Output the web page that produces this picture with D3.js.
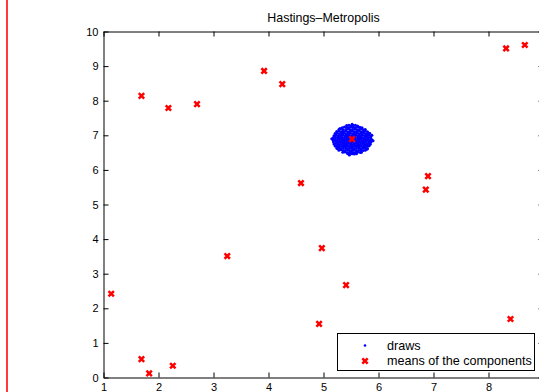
<!DOCTYPE html>
<html>
<head>
<meta charset="utf-8">
<script src="https://cdn.jsdelivr.net/npm/d3@7"></script>
<style>
  html, body { margin: 0; padding: 0; background: #fff; }
  svg { display: block; }
  text { font-family: "Liberation Sans", Arial, Helvetica, sans-serif; }
</style>
</head>
<body>
<svg id="chart" width="539" height="392"></svg>
<script>
// Means of the mixture components
const meanX = [1.14, 1.69, 1.83, 2.26, 1.69, 2.18, 2.70, 3.25, 3.92, 4.25,
               4.59, 4.97, 5.41, 4.92, 5.52, 6.90, 6.86, 8.32, 8.66, 8.40];
const meanY = [2.42, 0.53, 0.12, 0.34, 8.14, 7.79, 7.90, 3.51, 8.86, 8.48,
               5.62, 3.74, 2.67, 1.55, 6.89, 5.82, 5.43, 9.51, 9.61, 1.69];

// Hastings-Metropolis draws (x, y)
const draws = [
  [5.42,7.28],[5.46,7.29],[5.50,7.27],[5.54,7.28],[5.58,7.29],[5.62,7.27],
  [5.34,7.22],[5.38,7.24],[5.42,7.23],[5.46,7.22],[5.50,7.24],[5.54,7.23],[5.58,7.22],[5.62,7.24],[5.66,7.23],[5.70,7.22],
  [5.28,7.17],[5.32,7.18],[5.36,7.16],[5.41,7.17],[5.45,7.19],[5.49,7.16],[5.53,7.17],[5.57,7.18],[5.61,7.16],[5.65,7.17],[5.69,7.18],[5.73,7.16],[5.76,7.17],
  [5.24,7.11],[5.28,7.12],[5.32,7.10],[5.36,7.11],[5.40,7.12],[5.44,7.10],[5.48,7.11],[5.52,7.12],[5.56,7.10],[5.60,7.11],[5.64,7.12],[5.68,7.10],[5.72,7.11],[5.76,7.12],[5.80,7.10],
  [5.21,7.05],[5.25,7.06],[5.29,7.04],[5.33,7.05],[5.37,7.06],[5.41,7.04],[5.45,7.05],[5.49,7.06],[5.53,7.04],[5.57,7.05],[5.61,7.06],[5.65,7.04],[5.69,7.05],[5.73,7.06],[5.77,7.04],[5.81,7.05],[5.84,7.06],
  [5.19,6.99],[5.23,7.00],[5.27,6.98],[5.31,6.99],[5.35,7.00],[5.39,6.98],[5.43,6.99],[5.47,7.00],[5.51,6.98],[5.55,6.99],[5.59,7.00],[5.63,6.98],[5.67,6.99],[5.71,7.00],[5.75,6.98],[5.79,6.99],[5.83,7.00],[5.86,6.98],
  [5.18,6.93],[5.22,6.94],[5.26,6.92],[5.30,6.93],[5.34,6.94],[5.38,6.92],[5.42,6.93],[5.46,6.94],[5.50,6.92],[5.54,6.93],[5.58,6.94],[5.62,6.92],[5.66,6.93],[5.70,6.94],[5.74,6.92],[5.78,6.93],[5.82,6.94],[5.86,6.92],
  [5.17,6.87],[5.21,6.88],[5.25,6.86],[5.29,6.87],[5.33,6.88],[5.37,6.86],[5.41,6.87],[5.45,6.88],[5.49,6.86],[5.53,6.87],[5.57,6.88],[5.61,6.86],[5.65,6.87],[5.69,6.88],[5.73,6.86],[5.77,6.87],[5.81,6.88],[5.85,6.86],[5.88,6.87],
  [5.18,6.81],[5.22,6.82],[5.26,6.80],[5.30,6.81],[5.34,6.82],[5.38,6.80],[5.42,6.81],[5.46,6.82],[5.50,6.80],[5.54,6.81],[5.58,6.82],[5.62,6.80],[5.66,6.81],[5.70,6.82],[5.74,6.80],[5.78,6.81],[5.82,6.82],[5.86,6.80],
  [5.19,6.75],[5.23,6.76],[5.27,6.74],[5.31,6.75],[5.35,6.76],[5.39,6.74],[5.43,6.75],[5.47,6.76],[5.51,6.74],[5.55,6.75],[5.59,6.76],[5.63,6.74],[5.67,6.75],[5.71,6.76],[5.75,6.74],[5.79,6.75],[5.83,6.76],[5.85,6.74],
  [5.21,6.69],[5.25,6.70],[5.29,6.68],[5.33,6.69],[5.37,6.70],[5.41,6.68],[5.45,6.69],[5.49,6.70],[5.53,6.68],[5.57,6.69],[5.61,6.70],[5.65,6.68],[5.69,6.69],[5.73,6.70],[5.77,6.68],[5.81,6.69],[5.83,6.70],
  [5.24,6.63],[5.28,6.64],[5.32,6.62],[5.36,6.63],[5.40,6.64],[5.44,6.62],[5.48,6.63],[5.52,6.64],[5.56,6.62],[5.60,6.63],[5.64,6.64],[5.68,6.62],[5.72,6.63],[5.76,6.64],[5.80,6.62],
  [5.28,6.57],[5.32,6.58],[5.36,6.56],[5.40,6.57],[5.44,6.58],[5.48,6.56],[5.52,6.57],[5.56,6.58],[5.60,6.56],[5.64,6.57],[5.68,6.58],[5.72,6.56],[5.76,6.57],
  [5.35,6.51],[5.39,6.52],[5.43,6.50],[5.47,6.51],[5.51,6.52],[5.55,6.50],[5.59,6.51],[5.63,6.52],[5.67,6.50],[5.69,6.51],
  [5.44,6.47],[5.48,6.46],[5.52,6.47],[5.56,6.46],[5.60,6.47],
  [5.15,6.90],[5.90,6.84],[5.52,7.32],[5.30,7.20],[5.79,6.60],[5.25,6.62],[5.88,7.00],[5.47,6.43]
];

// Axis ticks and labels (the x-axis runs to 9, past the right edge of the page)
const xTicks = [1, 2, 3, 4, 5, 6, 7, 8, 9];
const xTickLabels = ["1", "2", "3", "4", "5", "6", "7", "8", ""];
const yTicks = [0, 1, 2, 3, 4, 5, 6, 7, 8, 9, 10];
const titleText = "Hastings\u2013Metropolis";
const legendLabels = ["draws", "means of the components"];

const svg = d3.select("#chart");
const W = 539, H = 392;

// Red margin rule down the left side of the page
svg.append("line")
  .attr("x1", 7).attr("x2", 7).attr("y1", 0).attr("y2", H)
  .attr("stroke", "#ff3b3b").attr("stroke-width", 2);

const x = d3.scaleLinear().domain([1, 9]).range([103.5, 543.5]);
const y = d3.scaleLinear().domain([0, 10]).range([377.5, 31.5]);

const TL = 5; // inward tick length

// Bottom axis
const gx = svg.append("g").attr("transform", `translate(0,${y(0)})`)
  .call(d3.axisBottom(x).tickValues(xTicks).tickSizeInner(-TL).tickSizeOuter(0).tickPadding(6)
    .tickFormat((d, i) => xTickLabels[i]));
// Top axis (ticks only)
const gxt = svg.append("g").attr("transform", `translate(0,${y(10)})`)
  .call(d3.axisTop(x).tickValues(xTicks).tickSizeInner(-TL).tickSizeOuter(0).tickFormat(""));
// Left axis
const gy = svg.append("g").attr("transform", `translate(${x(1)},0)`)
  .call(d3.axisLeft(y).tickValues(yTicks).tickSizeInner(-TL).tickSizeOuter(0).tickPadding(5).tickFormat(d3.format("d")));
// Right axis (ticks only)
const gyr = svg.append("g").attr("transform", `translate(${x(9)},0)`)
  .call(d3.axisRight(y).tickValues(yTicks).tickSizeInner(-TL).tickSizeOuter(0).tickFormat(""));

[gx, gxt, gy, gyr].forEach(g => {
  g.select(".domain").attr("stroke", "#000").attr("stroke-width", 1);
  g.selectAll(".tick line").attr("stroke", "#000").attr("stroke-width", 1);
  g.selectAll(".tick text").attr("fill", "#000").style("font-size", "11px")
    .style("font-family", "'Liberation Sans', Arial, sans-serif");
});

// Title
svg.append("text")
  .attr("x", (x(1) + x(9)) / 2).attr("y", 22)
  .attr("text-anchor", "middle").style("font-size", "12.4px").attr("fill", "#000")
  .text(titleText);

// Draws
svg.append("g").selectAll("circle").data(draws).join("circle")
  .attr("cx", d => x(d[0])).attr("cy", d => y(d[1]))
  .attr("r", 1.5).attr("fill", "#0000ff");

// Cross marker
function cross(g, cx, cy, s) {
  g.append("path")
    .attr("d", `M${cx - s},${cy - s}L${cx + s},${cy + s}M${cx - s},${cy + s}L${cx + s},${cy - s}`)
    .attr("stroke", "#ff0000").attr("stroke-width", 2.5).attr("fill", "none");
}

const gm = svg.append("g");
meanX.forEach((mx, i) => cross(gm, x(mx), y(meanY[i]), 2.7));

// Legend
const lg = svg.append("g");
lg.append("rect").attr("x", 337.5).attr("y", 333.5).attr("width", 197).attr("height", 37)
  .attr("fill", "#fff").attr("stroke", "#000").attr("stroke-width", 1);
lg.append("circle").attr("cx", 365).attr("cy", 345.5).attr("r", 1.3).attr("fill", "#0000ff");
cross(lg, 365, 361, 2.7);
lg.selectAll("text.lab").data(legendLabels).join("text").attr("class", "lab")
  .attr("x", 387).attr("y", (d, i) => 350 + i * 15)
  .style("font-size", "12.6px").attr("fill", "#000").text(d => d);
</script>
</body>
</html>
